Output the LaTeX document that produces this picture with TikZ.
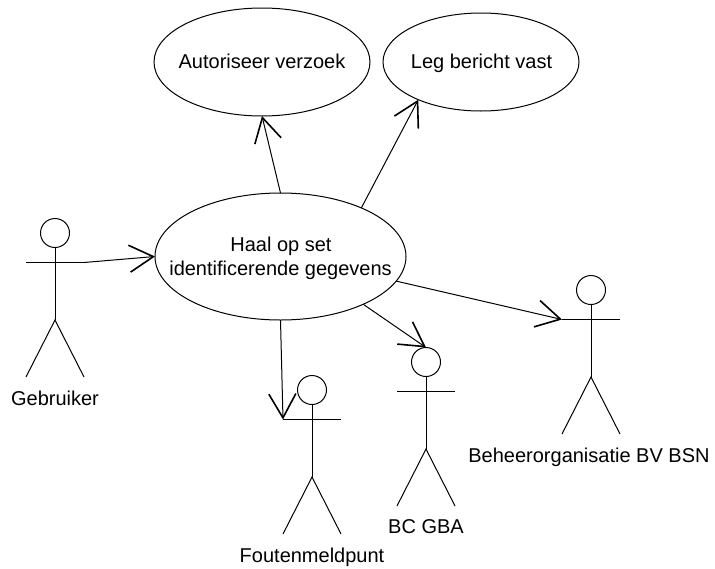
\documentclass[tikz,border=0pt]{standalone}
\usepackage{fontspec}
\setmainfont{Liberation Sans}
\usetikzlibrary{arrows.meta,shapes.geometric}
\tikzset{
  x=1pt,y=-1pt,
  usecase/.style={draw=black,line width=1pt,ellipse,inner sep=0pt,outer sep=0pt},
  label text/.style={font=\fontsize{20}{24}\selectfont,anchor=base,inner sep=0pt,align=center},
  limb/.style={draw=black,line width=1pt},
  link/.style={draw=black,line width=1pt,-{Straight Barb[length=24pt,width=27pt,line width=1.6pt]}},
}
% actor: name, head centre x, head centre y
\newcommand{\stickfigure}[3]{%
  \node[draw=black,line width=1pt,circle,minimum size=29pt,inner sep=0pt,outer sep=0pt] (#1head) at (#2,#3) {};
  \coordinate (#1armL) at (#2-29,#3+29.5);
  \coordinate (#1armR) at (#2+29,#3+29.5);
  \coordinate (#1hip) at (#2,#3+87);
  \coordinate (#1footL) at (#2-29,#3+144);
  \coordinate (#1footR) at (#2+29,#3+144);
  \draw[limb] (#1head.south) -- (#1hip);
  \draw[limb] (#1armL) -- (#1armR);
  \draw[limb] (#1footL) -- (#1hip) -- (#1footR);
}
\begin{document}
\begin{tikzpicture}
\useasboundingbox (0,0) rectangle (715,568);
\node[usecase,minimum width=216pt,minimum height=108pt] (auth) at (262,62) {};
\node[usecase,minimum width=196pt,minimum height=98pt] (leg) at (481,62) {};
\node[usecase,minimum width=251pt,minimum height=127pt] (haal) at (280.5,256.5) {};
\node[label text] (authT) at (262,68) {Autoriseer verzoek};
\node[label text] (legT) at (481.5,68) {Leg bericht vast};
\node[label text] (haalT) at (281,251) {Haal op set};
\node[label text] (haalU) at (280.5,275) {identificerende gegevens};
\stickfigure{geb}{55}{233}
\stickfigure{fou}{312}{390}
\stickfigure{bcg}{426}{362}
\stickfigure{beh}{591}{290}
\node[label text] (lgeb) at (55,405) {Gebruiker};
\node[label text] (lfou) at (312,562) {Foutenmeldpunt};
\node[label text] (lbcg) at (426,533) {BC GBA};
\node[label text] (lbeh) at (589,462) {Beheerorganisatie BV BSN};
\draw[link] (haal.north) -- (auth.south);
\draw[link] (haal.31.7) -- (leg.211);
\draw[link] (gebarmR) -- (haal.west);
\draw[link] (haal.south) -- (fouarmL);
\draw[link] (haal.-30.5) -- (bcghead.north);
\draw[link] (haal.-12.8) -- (beharmL);
\end{tikzpicture}
\end{document}
